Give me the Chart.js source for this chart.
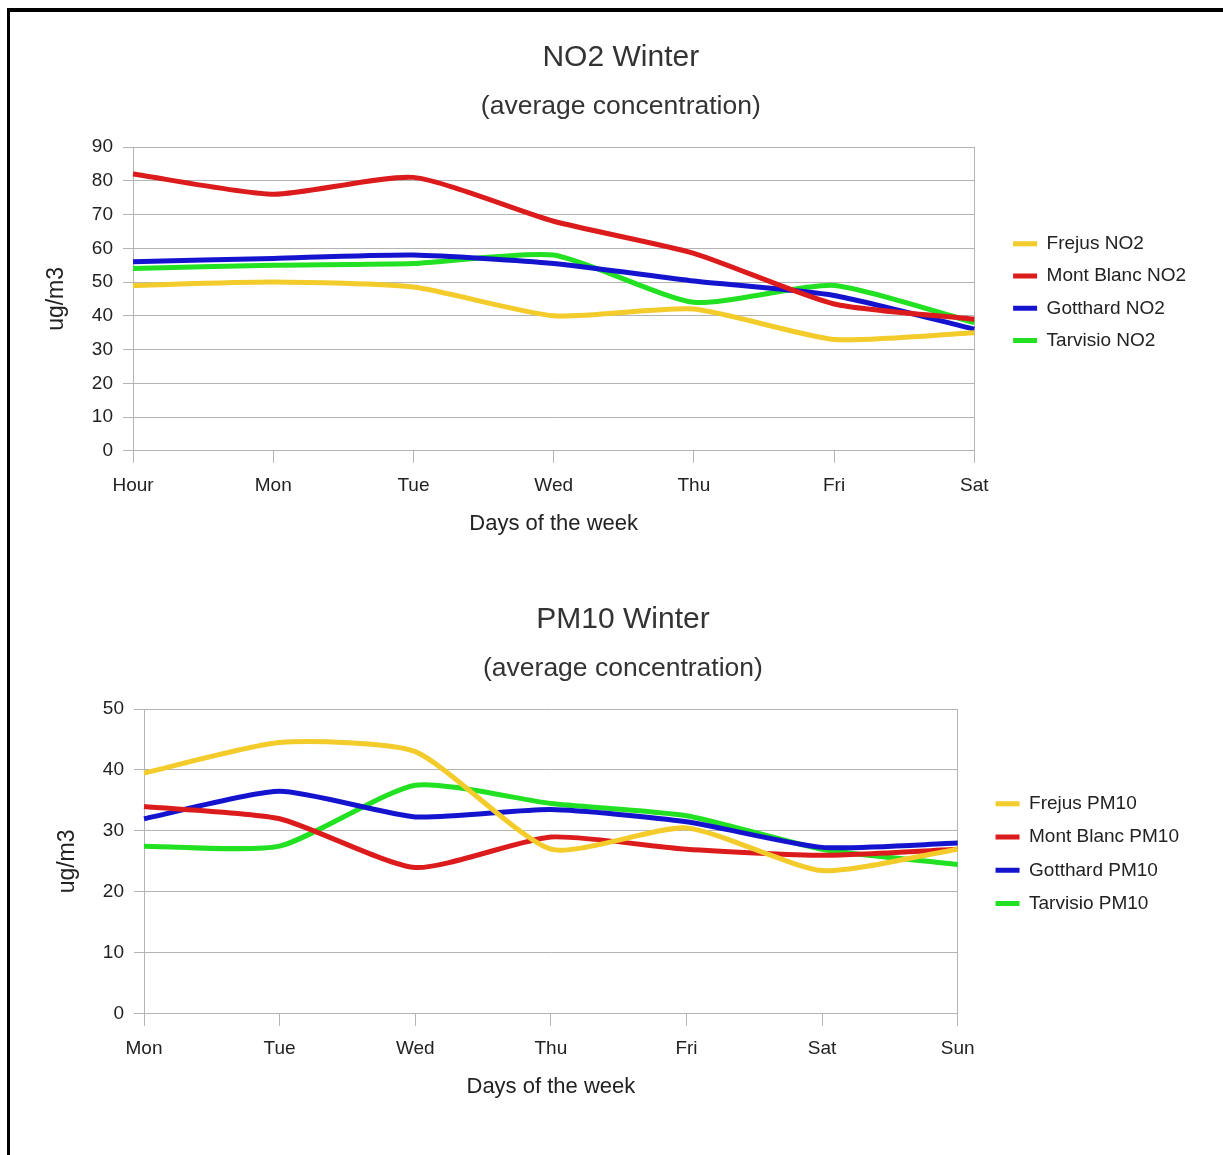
<!DOCTYPE html>
<html>
<head>
<meta charset="utf-8">
<title>NO2 / PM10 Winter</title>
<script src="https://cdn.jsdelivr.net/npm/chart.js@4.4.1/dist/chart.umd.min.js"></script>
<style>
  html, body { margin: 0; padding: 0; background: #fff; }
  body { width: 1223px; height: 1155px; position: relative; overflow: hidden; }
  .frame { position: absolute; left: 7px; top: 8px; right: 0; bottom: 0; border-top: 4px solid #000; border-left: 3px solid #000; }
  .chart { position: absolute; left: 11px; }
  .chart.no2 { top: 12px; width: 1185px; height: 548px; }
  .chart.pm10 { top: 565px; width: 1178px; height: 590px; }
</style>
</head>
<body>
<div class="frame"></div>
<div class="chart no2"><canvas id="no2"></canvas></div>
<div class="chart pm10"><canvas id="pm10"></canvas></div>
<script>
// NO2, winter averages
const no2Days = ['Hour', 'Mon', 'Tue', 'Wed', 'Thu', 'Fri', 'Sat']
const frejusNO2 = [49, 50, 48.5, 40, 42, 33, 35]
const montBlancNO2 = [82, 76, 81, 68, 58.5, 43.5, 39]
const gotthardNO2 = [56, 57, 58, 55.5, 50.3, 46, 36]
const tarvisioNO2 = [54, 55, 55.5, 58, 44, 49, 38]

// PM10, winter averages
const pm10Days = ['Mon', 'Tue', 'Wed', 'Thu', 'Fri', 'Sat', 'Sun']
const frejusPM10 = [39.5, 44.5, 43, 27, 30.5, 23.5, 27]
const montBlancPM10 = [34, 32, 24, 29, 27, 26, 27]
const gotthardPM10 = [32, 36.5, 32.3, 33.5, 31.5, 27.3, 28]
const tarvisioPM10 = [27.5, 27.5, 37.5, 34.5, 32.5, 27, 24.5]

const FONT = '"Liberation Sans", Arial, sans-serif'
const GRID = '#b4b4b4'
const TEXT = '#222'

const YELLOW = '#f3cb2b'
const RED = '#dc1c1c'
const BLUE = '#1414cf'
const GREEN = '#22e022'

function lineDataset(label, data, color, tension) {
  return {
    label: label,
    data: data,
    borderColor: color,
    backgroundColor: color,
    borderWidth: 5,
    pointRadius: 0,
    tension: tension,
    fill: false
  }
}

function legendLabels(chart) {
  return Chart.defaults.plugins.legend.labels.generateLabels(chart).map(item => ({...item, lineWidth: 0}))
}

function buildChart(canvas, setup) {
  const lastDay = setup.labels.length - 1

  return new Chart(canvas, {
    type: 'line',
    data: {labels: setup.labels, datasets: setup.datasets},
    options: {
      responsive: true,
      maintainAspectRatio: false,
      animation: false,
      layout: {padding: {left: setup.padLeft, top: 0, right: 0, bottom: setup.padBottom}},
      plugins: {
        title: {
          display: true,
          text: setup.title,
          color: '#333',
          font: {family: FONT, size: 30, weight: 'normal'},
          padding: {top: setup.titleTop, bottom: 8}
        },
        subtitle: {
          display: true,
          text: '(average concentration)',
          color: '#333',
          font: {family: FONT, size: 26.5, weight: 'normal'},
          padding: {top: 7, bottom: 24.2}
        },
        legend: {
          position: 'right',
          align: 'start',
          fullSize: false,
          title: {display: true, text: '', font: {size: 12}, padding: {top: setup.legendTop, bottom: 0}},
          labels: {
            color: TEXT,
            font: {family: FONT, size: 19},
            boxWidth: 24,
            boxHeight: 5,
            padding: setup.legendGap,
            generateLabels: legendLabels
          }
        },
        tooltip: {enabled: false}
      },
      scales: {
        x: {
          // only the last grid line is drawn across the plot: it closes the frame on the right
          grid: {
            drawOnChartArea: true,
            drawTicks: true,
            tickLength: 12,
            color: ctx => ctx.index === lastDay ? GRID : 'rgba(0,0,0,0)',
            tickColor: GRID
          },
          border: {display: true, color: GRID},
          ticks: {color: TEXT, font: {family: FONT, size: 19}, padding: 12, maxRotation: 0, autoSkip: false},
          title: {
            display: true,
            text: 'Days of the week',
            color: TEXT,
            font: {family: FONT, size: 22},
            padding: {top: 1, bottom: 0}
          }
        },
        y: {
          min: 0,
          max: setup.max,
          ticks: {stepSize: 10, color: TEXT, font: {family: FONT, size: 19}, padding: 10},
          grid: {color: GRID, tickColor: GRID, tickLength: 10},
          border: {display: true, color: GRID},
          title: {
            display: true,
            text: 'ug/m3',
            color: TEXT,
            font: {family: FONT, size: 23},
            padding: {top: setup.yTitleTop, bottom: 0}
          },
          afterFit: scale => { scale.width = setup.yWidth }
        },
        // hidden spacer between the plot and the legend
        y2: {
          display: false,
          position: 'right',
          min: 0,
          max: setup.max,
          afterFit: scale => { scale.width = setup.gapRight }
        }
      }
    }
  })
}

buildChart(document.getElementById('no2'), {
  labels: no2Days,
  title: 'NO2 Winter',
  max: 90,
  datasets: [
    lineDataset('Frejus NO2', frejusNO2, YELLOW, 0.2),
    lineDataset('Mont Blanc NO2', montBlancNO2, RED, 0.2),
    lineDataset('Gotthard NO2', gotthardNO2, BLUE, 0.2),
    lineDataset('Tarvisio NO2', tarvisioNO2, GREEN, 0.2)
  ],
  titleTop: 28,
  padLeft: 34.6,
  padBottom: 23,
  yWidth: 87.4,
  yTitleTop: -2.4,
  gapRight: 25.5,
  legendTop: 59.5,
  legendGap: 13.3
})

buildChart(document.getElementById('pm10'), {
  labels: pm10Days,
  title: 'PM10 Winter',
  max: 50,
  datasets: [
    lineDataset('Frejus PM10', frejusPM10, YELLOW, 0.2),
    lineDataset('Mont Blanc PM10', montBlancPM10, RED, 0.2),
    lineDataset('Gotthard PM10', gotthardPM10, BLUE, 0.2),
    lineDataset('Tarvisio PM10', tarvisioPM10, GREEN, 0.2)
  ],
  titleTop: 37,
  padLeft: 45.9,
  padBottom: 55,
  yWidth: 87.1,
  yTitleTop: -2.7,
  gapRight: 23.5,
  legendTop: 56.5,
  legendGap: 14.3
})
</script>
</body>
</html>
